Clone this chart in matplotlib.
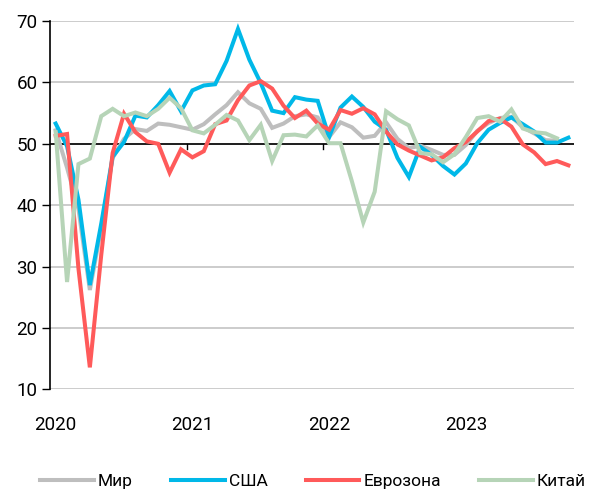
import matplotlib
matplotlib.use("Agg")
import matplotlib.pyplot as plt
import numpy as np

plt.rcParams['font.family'] = ['Roboto', 'DejaVu Sans']

# PMI, янв 2020 - окт 2023
world = [52.2, 46.1, 39.4, 26.2, 36.3, 47.7, 50.8, 52.4, 52.1, 53.3, 53.1, 52.7,
         52.3, 53.2, 54.8, 56.3, 58.4, 56.6, 55.7, 52.6, 53.3, 54.5, 54.8, 54.3,
         51.1, 53.5, 52.7, 51.0, 51.3, 53.5, 50.8, 49.3, 49.7, 49.0, 48.2, 48.2,
         49.8, 52.1, 53.4, 54.2, 54.4, 52.7, 51.7, 50.6, 50.5]
usa = [53.3, 49.6, 40.9, 27.0, 37.0, 47.9, 50.3, 54.6, 54.3, 56.3, 58.6, 55.3,
       58.7, 59.5, 59.7, 63.5, 68.7, 63.7, 59.9, 55.4, 55.0, 57.6, 57.2, 57.0,
       51.1, 55.9, 57.7, 56.0, 53.6, 52.3, 47.7, 44.6, 49.5, 48.2, 46.4, 45.0,
       46.8, 50.1, 52.3, 53.4, 54.3, 53.2, 52.0, 50.2, 50.2, 51.0]
eurozone = [51.3, 51.6, 29.7, 13.6, 31.9, 48.5, 54.9, 51.9, 50.4, 50.0, 45.3, 49.1,
            47.8, 48.8, 53.2, 53.8, 57.1, 59.5, 60.2, 59.0, 56.2, 54.2, 55.4, 53.3,
            52.3, 55.5, 54.9, 55.8, 54.8, 52.0, 49.9, 48.9, 48.1, 47.3, 47.8, 49.3,
            50.3, 52.0, 53.7, 54.1, 52.8, 49.9, 48.6, 46.7, 47.2, 46.5]
china = [51.9, 27.5, 46.7, 47.6, 54.5, 55.7, 54.5, 55.1, 54.5, 55.7, 57.5, 55.8,
         52.2, 51.7, 53.1, 54.7, 53.8, 50.6, 53.1, 47.2, 51.4, 51.5, 51.2, 53.0,
         50.1, 50.1, 43.9, 37.2, 42.2, 55.3, 54.0, 53.0, 48.5, 48.3, 47.0, 48.3,
         51.1, 54.2, 54.5, 53.6, 55.6, 52.5, 51.9, 51.7, 50.9]

years = ['2020', '2021', '2022', '2023']
series = [('Мир', world, '#bebebe'),
          ('США', usa, '#00b8e8'),
          ('Еврозона', eurozone, '#ff5a5a'),
          ('Китай', china, '#b6d4b7')]

n_months = 46

fig = plt.figure(figsize=(5.9, 4.93), dpi=100)
ax = fig.add_axes([0.0847, 0.21, 0.8883, 0.7474])

for y in range(10, 71, 10):
    ax.axhline(y, color='#c8c8c8', lw=1.3, zorder=1)
ax.axhline(50, color='black', lw=1.2, zorder=2)

for name, vals, col in series:
    ax.plot(np.arange(len(vals)), vals, color=col, lw=2.9, label=name,
            solid_joinstyle='miter', zorder=3)

# засечки годов на линии 50
for k in range(1, len(years)):
    xb = 12 * k - 0.5
    ax.plot([xb, xb], [50, 49.2], color='black', lw=1.0, zorder=2, clip_on=False)

ax.set_xlim(-0.5, n_months - 0.5)
ax.set_ylim(10, 70)
ax.set_yticks(range(10, 71, 10))
ax.set_xticks([12 * k for k in range(len(years))])
ax.set_xticklabels(years)
ax.tick_params(axis='x', length=0, pad=19, labelsize=13.5)
ax.tick_params(axis='y', length=6, width=1.0, pad=3, labelsize=13.5)

for s in ['top', 'right', 'bottom']:
    ax.spines[s].set_visible(False)
ax.spines['left'].set_linewidth(1.2)

fig.legend(loc='center', bbox_to_anchor=(0.5305, 0.024), ncol=4, frameon=False,
           fontsize=12.5, handlelength=3.1, handletextpad=0.23,
           columnspacing=2.2, borderaxespad=0, borderpad=0)

fig.savefig('out.png', dpi=100)
